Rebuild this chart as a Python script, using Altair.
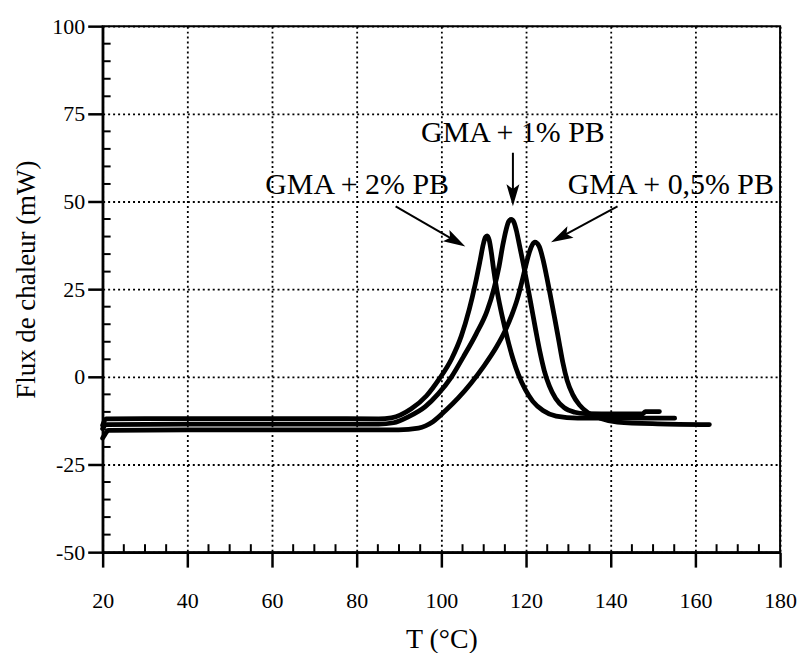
import altair as alt
import pandas as pd

# ---------------- data ----------------
x_ticks = [20, 40, 60, 80, 100, 120, 140, 160, 180]
y_ticks = [-50, -25, 0, 25, 50, 75, 100]
x_minor = [25, 30, 35, 45, 50, 55, 65, 70, 75, 85, 90, 95, 105, 110, 115,
           125, 130, 135, 145, 150, 155, 165, 170, 175]
y_minor = [-45, -40, -35, -30, -20, -15, -10, -5, 5, 10, 15, 20, 30, 35, 40,
           45, 55, 60, 65, 70, 80, 85, 90, 95]

series_names = ["GMA + 2% PB", "GMA + 1% PB", "GMA + 0,5% PB"]

t_2pb = [20, 20.8, 30, 50, 70, 85.2, 88.2, 92.9, 96.5, 99.5, 102.4, 104.7, 106.6,
         108.0, 109.2, 109.9, 110.4, 110.8, 111.3, 111.8, 112.3, 113.0, 113.8,
         114.8, 115.9, 117.0, 118.2, 119.8, 121.6, 124.0, 127.1, 132.2, 141.6, 155.1]
v_2pb = [-13.8, -12.0, -11.9, -11.9, -11.9, -12.0, -11.7, -9.1, -5.4, -0.6, 5.1, 11.6, 19.3,
         26.4, 33.5, 37.8, 39.8, 40.2, 39.0, 35.5, 31.0, 25.5, 20.5,
         15.0, 9.5, 4.8, 0.6, -3.6, -7.0, -9.6, -11.2, -11.8, -11.8, -11.8]

t_1pb = [20, 20.8, 40, 60, 85.2, 88.7, 92.2, 96.2, 99.3, 102.4, 105.2, 108.2, 110.8,
         112.4, 113.6, 114.5, 115.3, 115.9, 116.5, 117.1, 117.7, 118.4, 119.3,
         120.3, 121.3, 122.3, 123.3, 124.3, 125.5, 127.0, 129.0, 131.5, 134.0,
         141.6, 147.5, 148.2, 151.5]
v_1pb = [-14.8, -13.6, -13.5, -13.5, -13.5, -13.1, -11.4, -8.5, -4.8, 0.0, 5.7, 12.2, 18.8,
         25.0, 31.3, 37.5, 42.0, 44.3, 44.9, 44.2, 41.8, 37.8, 32.5,
         26.3, 19.8, 13.2, 7.0, 1.8, -2.6, -6.2, -8.8, -10.1, -10.5,
         -10.6, -10.6, -9.9, -9.9]

t_05pb = [20, 20.6, 21.5, 40, 60, 89.9, 94.6, 98.0, 101.0, 104.0, 107.0, 110.0, 113.0,
          115.0, 116.6, 117.9, 119.0, 120.0, 120.8, 121.5, 122.1, 123.1, 124.0, 124.9,
          125.9, 126.8, 127.8, 128.7, 129.7, 131.0, 132.6, 134.6, 137.5, 141.6, 151.1, 163.3]
v_05pb = [-17.5, -16.3, -15.3, -15.1, -15.1, -15.1, -14.6, -12.8, -9.6, -6.0, -1.8, 3.0, 8.5,
          13.0, 17.5, 22.0, 27.0, 32.0, 35.6, 37.7, 38.4, 37.2, 33.5, 28.4,
          22.2, 16.5, 9.9, 4.0, -1.0, -5.0, -8.0, -10.2, -11.8, -12.9, -13.4, -13.6]

# annotations (data units)
label_t = [80.1, 116.9, 154.2]
label_v = [54.8, 69.6, 54.8]
arrow_t1 = [89.2, 116.9, 141.6]
arrow_v1 = [48.6, 63.9, 48.6]
arrow_t2 = [103.0, 116.9, 128.6]
arrow_v2 = [39.0, 52.3, 40.1]
arrow_angle = [119.7, 180, 241.9]

# ---------------- tables ----------------
rows = []
for name, ts, vs in zip(series_names, [t_2pb, t_1pb, t_05pb], [v_2pb, v_1pb, v_05pb]):
    for i, (t, v) in enumerate(zip(ts, vs)):
        rows.append({"series": name, "T": t, "v": v, "i": i})
curves = pd.DataFrame(rows)

labels_df = pd.DataFrame({"T": label_t, "v": label_v, "label": series_names})
arrows_df = pd.DataFrame({"T": arrow_t1, "v": arrow_v1, "T2": arrow_t2, "v2": arrow_v2})
heads_df = pd.DataFrame({"T": arrow_t2, "v": arrow_v2, "angle": arrow_angle})
xminor_df = pd.DataFrame({"T": x_minor})
yminor_df = pd.DataFrame({"v": y_minor})

# ---------------- chart ----------------
W, H = 680, 528
FONT = "Liberation Serif"

xs = alt.Scale(domain=[20, 180], nice=False, zero=False)
ys = alt.Scale(domain=[-50, 100], nice=False, zero=False)

xaxis = alt.Axis(
    values=x_ticks, title="T (°C)", grid=True, gridColor="black", gridDash=[2, 3],
    gridWidth=1.8, gridOpacity=1, domainColor="black", domainWidth=2.5,
    tickColor="black", tickWidth=2.5, tickSize=15, labelFont=FONT, labelFontSize=22,
    labelColor="black", labelPadding=24, labelFlush=False, labelOverlap=False,
    titleFont=FONT, titleFontSize=28, titleFontWeight="normal", titleColor="black",
    titleY=96, titleBaseline="alphabetic",
)
yaxis = alt.Axis(
    values=y_ticks, title="Flux de chaleur (mW)", grid=True, gridColor="black",
    gridDash=[2, 3], gridWidth=1.8, gridOpacity=1, domainColor="black", domainWidth=2.5,
    tickColor="black", tickWidth=2.5, tickSize=15, labelFont=FONT, labelFontSize=22,
    labelColor="black", labelPadding=3, labelFlush=False, labelOverlap=False,
    labelExpr="'' + datum.value",
    titleFont=FONT, titleFontSize=27, titleFontWeight="normal", titleColor="black",
    titleX=-76, titleY=254, titleAngle=270, titleBaseline="middle", titleAlign="center",
)

X = alt.X("T:Q", scale=xs, axis=xaxis)
Y = alt.Y("v:Q", scale=ys, axis=yaxis)

lines = alt.Chart(curves).mark_line(
    color="black", strokeWidth=4.8, interpolate="monotone",
    strokeCap="round", strokeJoin="round",
).encode(x=X, y=Y, detail="series:N", order="i:Q")

xminor = alt.Chart(xminor_df).mark_rule(color="black", strokeWidth=2).encode(
    x=X, y=alt.value(H), y2=alt.value(H - 8)
)
yminor = alt.Chart(yminor_df).mark_rule(color="black", strokeWidth=2).encode(
    y=Y, x=alt.value(0), x2=alt.value(8)
)

arrows = alt.Chart(arrows_df).mark_rule(color="black", strokeWidth=2).encode(
    x=X, y=Y, x2="T2:Q", y2="v2:Q"
)
heads = alt.Chart(heads_df).mark_point(
    shape="M0,-1L0.5,0.7L0,0.35L-0.5,0.7Z", filled=True, color="black",
    opacity=1, size=676, strokeWidth=0,
).encode(x=X, y=Y, angle=alt.Angle("angle:Q", scale=None))

texts = alt.Chart(labels_df).mark_text(
    font=FONT, fontSize=30, color="black", align="center", baseline="middle"
).encode(x=X, y=Y, text="label:N")

chart = alt.layer(lines, xminor, yminor, arrows, heads, texts).properties(
    width=W, height=H,
    autosize=alt.AutoSizeParams(type="none"),
    padding={"left": 95, "top": 17, "right": 22, "bottom": 100},
    background="white",
).configure_view(stroke="black", strokeWidth=2)

chart.save("out.html", embed_options={"renderer": "svg", "actions": False})
